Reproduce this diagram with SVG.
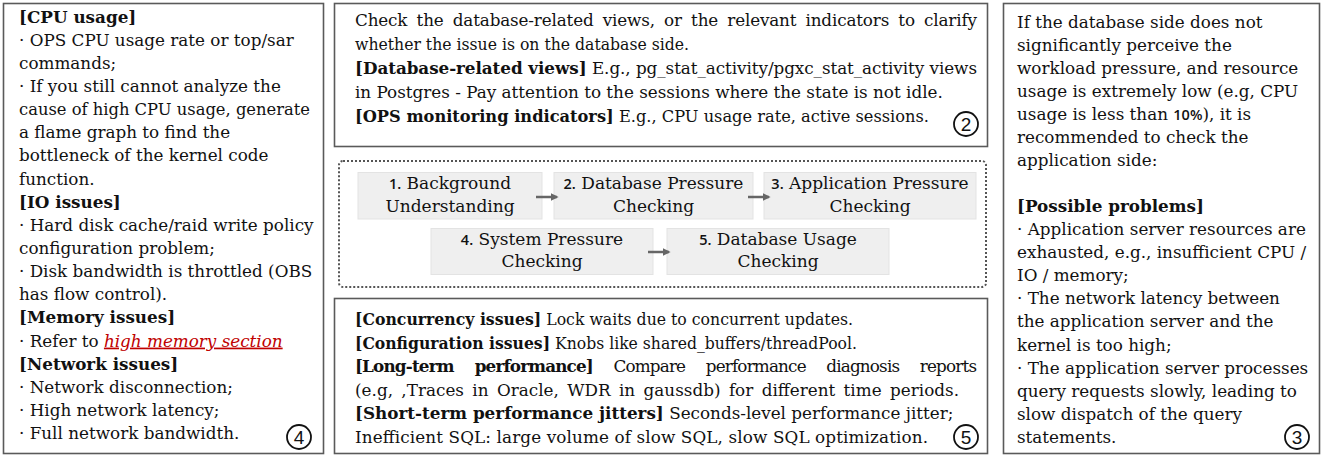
<svg xmlns="http://www.w3.org/2000/svg" width="1323" height="457" viewBox="0 0 1323 457">
<defs>
<style>
.box{fill:#fff;stroke:#5a5a5a;stroke-width:1.6}
.dot{fill:none;stroke:#555;stroke-width:2;stroke-dasharray:2 2}
.step{fill:#efefef;stroke:#e3e3e3;stroke-width:1}
.t{font-family:"DejaVu Serif","Liberation Serif",serif;font-size:16.8px;fill:#111}
.b{font-weight:bold}
.st{font-family:"DejaVu Serif","Liberation Serif",serif;font-size:17px;fill:#111;text-anchor:middle}
.num{font-family:"Open Sans","Liberation Sans",sans-serif;font-size:14.5px;font-weight:600}
.red{fill:#c00000;font-style:italic;text-decoration:underline}
.circ{fill:none;stroke:#111;stroke-width:1.8}
.cn{font-family:"Liberation Sans",Arial,sans-serif;font-size:19px;fill:#111;text-anchor:middle}
.arr{stroke:#666;stroke-width:2.5;fill:none}
</style>
<marker id="ah" viewBox="0 0 10 10" refX="8" refY="5" markerWidth="3.2" markerHeight="3.2" orient="auto">
<path d="M0,0 L10,5 L0,10 z" fill="#666"/>
</marker>
</defs>

<g id="node-4">
<rect class="box" x="3.5" y="3.5" width="320" height="450"/>
<text class="t" x="19" y="22.5"><tspan class="b">[CPU usage]</tspan></text>
<text class="t" x="19" y="45.6">· OPS CPU usage rate or top/sar</text>
<text class="t" x="19" y="68.8">commands;</text>
<text class="t" x="19" y="91.9">· If you still cannot analyze the</text>
<text class="t" x="19" y="115.1" textLength="291" lengthAdjust="spacingAndGlyphs">cause of high CPU usage, generate</text>
<text class="t" x="19" y="138.2">a flame graph to find the</text>
<text class="t" x="19" y="161.4">bottleneck of the kernel code</text>
<text class="t" x="19" y="184.5">function.</text>
<text class="t" x="19" y="207.7"><tspan class="b">[IO issues]</tspan></text>
<text class="t" x="19" y="230.8">· Hard disk cache/raid write policy</text>
<text class="t" x="19" y="254">configuration problem;</text>
<text class="t" x="19" y="277.1">· Disk bandwidth is throttled (OBS</text>
<text class="t" x="19" y="300.3">has flow control).</text>
<text class="t" x="19" y="323.4"><tspan class="b">[Memory issues]</tspan></text>
<text class="t" x="19" y="346.6">· Refer to <tspan class="red">high memory section</tspan></text>
<text class="t" x="19" y="369.7"><tspan class="b">[Network issues]</tspan></text>
<text class="t" x="19" y="392.9">· Network disconnection;</text>
<text class="t" x="19" y="416">· High network latency;</text>
<text class="t" x="19" y="439.2">· Full network bandwidth.</text>
<circle class="circ" cx="299" cy="437" r="12"/>
<text class="cn" x="299" y="443.8">4</text>
</g>

<g id="node-2">
<rect class="box" x="334.5" y="3.5" width="653" height="143"/>
<text class="t" x="355" y="25.5" word-spacing="4" textLength="622" lengthAdjust="spacing">Check the database-related views, or the relevant indicators to clarify</text>
<text class="t" x="355" y="49.7" textLength="334" lengthAdjust="spacingAndGlyphs">whether the issue is on the database side.</text>
<text class="t" x="355" y="73.9" textLength="622" lengthAdjust="spacing"><tspan class="b">[Database-related views]</tspan> E.g., pg_stat_activity/pgxc_stat_activity views</text>
<text class="t" x="355" y="98.1">in Postgres - Pay attention to the sessions where the state is not idle.</text>
<text class="t" x="355" y="122.3" textLength="574" lengthAdjust="spacingAndGlyphs"><tspan class="b">[OPS monitoring indicators]</tspan> E.g., CPU usage rate, active sessions.</text>
<circle class="circ" cx="966" cy="124" r="12"/>
<text class="cn" x="966" y="130.8">2</text>
</g>

<g id="node-5">
<rect class="box" x="334.5" y="298.5" width="653" height="155"/>
<text class="t" x="355" y="325" textLength="498" lengthAdjust="spacingAndGlyphs"><tspan class="b">[Concurrency issues]</tspan> Lock waits due to concurrent updates.</text>
<text class="t" x="355" y="348.5" textLength="502" lengthAdjust="spacingAndGlyphs"><tspan class="b">[Configuration issues]</tspan> Knobs like shared_buffers/threadPool.</text>
<text class="t" x="355" y="372" word-spacing="16" textLength="622" lengthAdjust="spacing"><tspan class="b">[Long-term performance]</tspan> Compare performance diagnosis reports</text>
<text class="t" x="355" y="395.5" word-spacing="3" textLength="604" lengthAdjust="spacing">(e.g, ,Traces in Oracle, WDR in gaussdb) for different time periods.</text>
<text class="t" x="355" y="419"><tspan class="b">[Short-term performance jitters]</tspan> Seconds-level performance jitter;</text>
<text class="t" x="355" y="442.5" textLength="573" lengthAdjust="spacing">Inefficient SQL: large volume of slow SQL, slow SQL optimization.</text>
<circle class="circ" cx="966" cy="437" r="12"/>
<text class="cn" x="966" y="443.8">5</text>
</g>

<g id="node-3">
<rect class="box" x="1003.5" y="3.5" width="316" height="450"/>
<text class="t" x="1017" y="27.5">If the database side does not</text>
<text class="t" x="1017" y="50.6">significantly perceive the</text>
<text class="t" x="1017" y="73.6">workload pressure, and resource</text>
<text class="t" x="1017" y="96.7">usage is extremely low (e.g, CPU</text>
<text class="t" x="1017" y="119.8">usage is less than <tspan class="num">10%</tspan>), it is</text>
<text class="t" x="1017" y="142.9">recommended to check the</text>
<text class="t" x="1017" y="165.9">application side:</text>
<text class="t" x="1017" y="212.1"><tspan class="b">[Possible problems]</tspan></text>
<text class="t" x="1017" y="235.1">· Application server resources are</text>
<text class="t" x="1017" y="258.2">exhausted, e.g., insufficient CPU /</text>
<text class="t" x="1017" y="281.3">IO / memory;</text>
<text class="t" x="1017" y="304.4">· The network latency between</text>
<text class="t" x="1017" y="327.4">the application server and the</text>
<text class="t" x="1017" y="350.5">kernel is too high;</text>
<text class="t" x="1017" y="373.6">· The application server processes</text>
<text class="t" x="1017" y="396.6">query requests slowly, leading to</text>
<text class="t" x="1017" y="419.7">slow dispatch of the query</text>
<text class="t" x="1017" y="442.8">statements.</text>
<circle class="circ" cx="1297" cy="437" r="12"/>
<text class="cn" x="1297" y="443.8">3</text>
</g>

<g id="flow-frame">
<rect class="dot" x="339" y="161" width="647" height="126" rx="4"/>
</g>

<g id="step-1">
<rect class="step" x="358" y="172.5" width="184" height="46.5"/>
<text class="st" x="450" y="189"><tspan class="num">1.</tspan> Background</text>
<text class="st" x="450" y="211.5">Understanding</text>
</g>
<g id="step-2">
<rect class="step" x="554" y="172.5" width="199" height="46.5"/>
<text class="st" x="653.5" y="189"><tspan class="num">2.</tspan> Database Pressure</text>
<text class="st" x="653.5" y="211.5">Checking</text>
</g>
<g id="step-3">
<rect class="step" x="764" y="172.5" width="212" height="46.5"/>
<text class="st" x="870" y="189"><tspan class="num">3.</tspan> Application Pressure</text>
<text class="st" x="870" y="211.5">Checking</text>
</g>
<g id="step-4">
<rect class="step" x="431" y="228.5" width="222" height="46"/>
<text class="st" x="542" y="244.5"><tspan class="num">4.</tspan> System Pressure</text>
<text class="st" x="542" y="267">Checking</text>
</g>
<g id="step-5">
<rect class="step" x="667" y="228.5" width="222" height="46"/>
<text class="st" x="778" y="244.5"><tspan class="num">5.</tspan> Database Usage</text>
<text class="st" x="778" y="267">Checking</text>
</g>

<g id="connectors">
<line class="arr" x1="536" y1="197" x2="557" y2="197" marker-end="url(#ah)"/>
<line class="arr" x1="748" y1="197" x2="769" y2="197" marker-end="url(#ah)"/>
<line class="arr" x1="648" y1="252" x2="669" y2="252" marker-end="url(#ah)"/>
</g>
</svg>
